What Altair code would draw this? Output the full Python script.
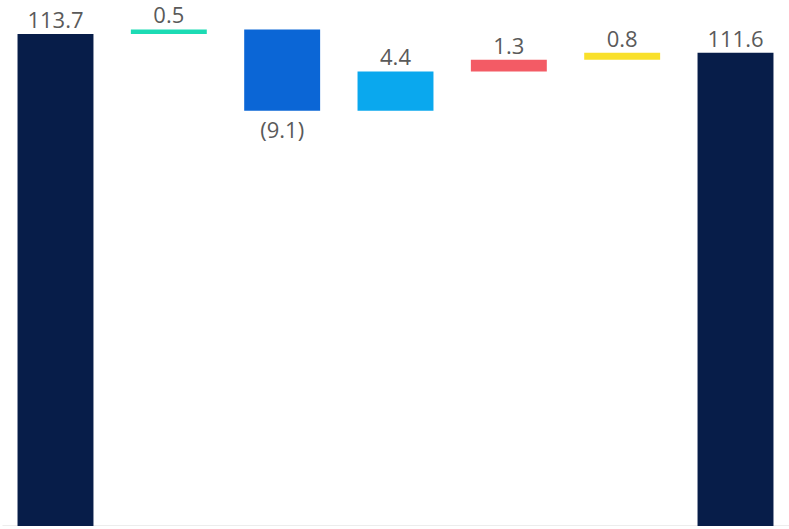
import altair as alt
import pandas as pd

categories = ["Start", "Step 1", "Step 2", "Step 3", "Step 4", "Step 5", "End"]
values = [113.7, 0.5, -9.1, 4.4, 1.3, 0.8, 111.6]
kinds = ["total", "delta", "delta", "delta", "delta", "delta", "total"]
colors = ["#071d49", "#1cdbb4", "#0b66d6", "#0aa8ee", "#f35b65", "#f9e02a", "#071d49"]

rows = []
running = 0.0
for cat, val, kind, col in zip(categories, values, kinds, colors):
    if kind == "total":
        lo, hi = 0.0, val
        running = val
    else:
        start = running
        running = round(running + val, 4)
        lo, hi = min(start, running), max(start, running)
    label = f"({abs(val):.1f})" if val < 0 else f"{val:.1f}"
    rows.append({"cat": cat, "lo": lo, "hi": hi, "color": col, "label": label,
                 "neg": val < 0})
df = pd.DataFrame(rows)

y_scale = alt.Scale(domain=[58.6, 117.5], zero=False, clamp=True, nice=False)
x_enc = alt.X("cat:N", sort=categories,
              scale=alt.Scale(paddingInner=0.33, paddingOuter=0.137),
              axis=alt.Axis(labels=False, ticks=False, title=None,
                            domainColor="#ededed", domainWidth=3))

base = alt.Chart(df)
bars = base.mark_bar().encode(
    x=x_enc,
    y=alt.Y("lo:Q", scale=y_scale, axis=None),
    y2="hi:Q",
    color=alt.Color("color:N", scale=None),
)
pos_text = base.transform_filter("!datum.neg").mark_text(
    baseline="alphabetic", dy=-6, font="Open Sans", fontSize=22, color="#5a5a5a"
).encode(x=alt.X("cat:N", sort=categories), y=alt.Y("hi:Q", scale=y_scale), text="label:N")
neg_text = base.transform_filter("datum.neg").mark_text(
    baseline="top", dy=10, font="Open Sans", fontSize=22, color="#5a5a5a"
).encode(x=alt.X("cat:N", sort=categories), y=alt.Y("lo:Q", scale=y_scale), text="label:N")

chart = alt.layer(bars, pos_text, neg_text).properties(
    width=787, height=526,
    autosize=alt.AutoSizeParams(type="none"),
    padding={"left": 2, "top": 0, "right": 0, "bottom": 0},
).configure(background="white").configure_view(stroke=None, strokeWidth=0)

chart.save("out.html", embed_options={"renderer": "svg", "actions": False})
